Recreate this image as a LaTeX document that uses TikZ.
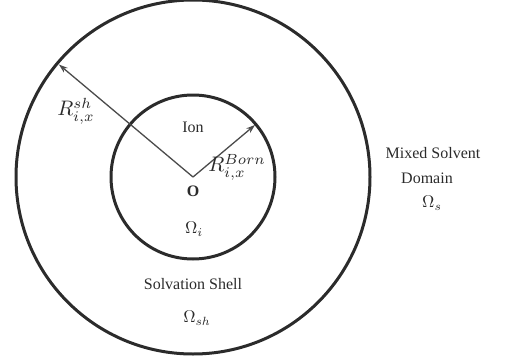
\documentclass[tikz,border=0pt]{standalone}
\usepackage[no-math]{fontspec}
\setmainfont{Liberation Serif}
\usetikzlibrary{arrows.meta}
\definecolor{ink}{HTML}{2B2B2B}
\tikzset{
  ring/.style={draw=ink, line width=3pt},
  radius arrow/.style={draw=ink!85, line width=1.3pt, -{Stealth[length=9pt,width=6pt]}},
  lbl/.style={font=\fontsize{16}{19}\selectfont, text=ink, inner sep=0pt},
  mlbl/.style={font=\fontsize{10}{12}\selectfont, scale=1.7, text=ink, inner sep=0pt},
  rlbl/.style={font=\fontsize{10}{12}\selectfont, scale=2.1, text=ink, inner sep=0pt},
}
\begin{document}
\begin{tikzpicture}[x=1pt,y=-1pt]
\useasboundingbox (0,0) rectangle (509,362);
\coordinate (O) at (193,177);
\draw[ring] (O) circle[radius=177];
\draw[ring] (O) circle[radius=82];
\path (O) ++(-140:175) coordinate (outerend);
\path (O) ++(-40:81) coordinate (innerend);
\draw[radius arrow] (O) -- (outerend);
\draw[radius arrow] (O) -- (innerend);
\node[lbl, font=\fontsize{16}{19}\selectfont\bfseries] (olabel) at (193,191) {O};
\node[lbl] (ion) at (193,127) {Ion};
\node[mlbl] (omi) at (194,229) {$\Omega_i$};
\node[lbl] (shell) at (193,284) {Solvation Shell};
\node[mlbl] (omsh) at (197,318) {$\Omega_{sh}$};
\node[rlbl] (rsh) at (76,111) {$R_{i,x}^{sh}$};
\node[rlbl] (rborn) at (237,167) {$R_{i,x}^{Born}$};
\node[lbl] (mixed) at (433,153) {Mixed Solvent};
\node[lbl] (domain) at (427,178) {Domain};
\node[mlbl] (oms) at (432,203) {$\Omega_s$};
\end{tikzpicture}
\end{document}
